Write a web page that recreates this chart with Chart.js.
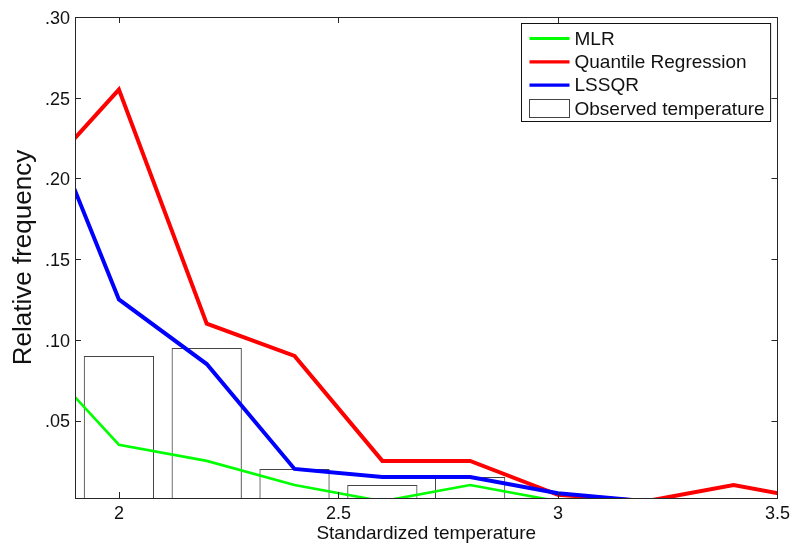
<!DOCTYPE html>
<html>
<head>
<meta charset="utf-8">
<script src="https://cdn.jsdelivr.net/npm/chart.js@4"></script>
<style>
  html, body { margin: 0; padding: 0; background: #fff; }
  #wrap { width: 795px; height: 545px; }
</style>
</head>
<body>
<div id="wrap"><canvas id="freqChart" width="795" height="545"></canvas></div>
<script>
// values
const xPoints = [1.8, 2.0, 2.2, 2.4, 2.6, 2.8, 3.0, 3.2, 3.4, 3.6];
const mlr = [0.094, 0.035, 0.025, 0.01, 0, 0.01, 0, 0, 0, 0];
const quantile = [0.195, 0.255, 0.11, 0.09, 0.025, 0.025, 0.004, 0, 0.01, 0];
const lssqr = [0.26, 0.125, 0.085, 0.02, 0.015, 0.015, 0.005, 0, 0, 0];
const barX = [2.0, 2.2, 2.4, 2.6, 2.8];
const observed = [0.09, 0.095, 0.02, 0.01, 0.015];
const xTicks = [2, 2.5, 3, 3.5];
const yTicks = [0.05, 0.10, 0.15, 0.20, 0.25, 0.30];

const FONT = '"Liberation Sans", Arial, Helvetica, sans-serif';
const AXIS = '#262626';

const toXY = (xs, ys) => xs.map((x, i) => ({ x: x, y: ys[i] }));

// inward tick marks + box round the plot, MATLAB style
const frame = {
  id: 'frame',
  afterDatasetsDraw(chart) {
    const { ctx, chartArea: a, scales: { x, y } } = chart;
    ctx.save();
    ctx.strokeStyle = AXIS;
    ctx.lineWidth = 1;
    ctx.beginPath();
    xTicks.forEach(v => {
      const px = Math.round(x.getPixelForValue(v)) + 0.5;
      ctx.moveTo(px, a.bottom); ctx.lineTo(px, a.bottom - 6);
      ctx.moveTo(px, a.top); ctx.lineTo(px, a.top + 6);
    });
    yTicks.forEach(v => {
      const py = Math.round(y.getPixelForValue(v)) + 0.5;
      ctx.moveTo(a.left, py); ctx.lineTo(a.left + 6, py);
      ctx.moveTo(a.right, py); ctx.lineTo(a.right - 6, py);
    });
    ctx.stroke();
    ctx.strokeRect(Math.round(a.left) + 0.5, Math.round(a.top) + 0.5,
      Math.round(a.right - a.left), Math.round(a.bottom - a.top));
    ctx.restore();
  }
};

// boxed legend inside the top right corner
const boxLegend = {
  id: 'boxLegend',
  afterDraw(chart) {
    const { ctx, chartArea: a } = chart;
    const sets = chart.data.datasets;
    ctx.save();
    ctx.font = '19px ' + FONT;
    let tw = 0;
    sets.forEach(d => { tw = Math.max(tw, ctx.measureText(d.label).width); });
    const w = 53 + tw + 6;
    const h = 98;
    const left = Math.round(a.right - 7 - w) + 0.5;
    const top = Math.round(a.top + 6) + 0.5;
    ctx.fillStyle = '#fff';
    ctx.fillRect(left, top, w, h);
    ctx.strokeStyle = '#111';
    ctx.lineWidth = 1;
    ctx.strokeRect(left, top, w, h);
    sets.forEach((d, i) => {
      const cy = top + 15 + i * 23.3;
      if (d.type === 'bar') {
        ctx.strokeStyle = '#444';
        ctx.strokeRect(left + 8, Math.round(cy - 9) + 0.5, 40, 18);
      } else {
        ctx.strokeStyle = d.borderColor;
        ctx.lineWidth = 3.2;
        ctx.beginPath();
        ctx.moveTo(left + 8, cy);
        ctx.lineTo(left + 48, cy);
        ctx.stroke();
        ctx.lineWidth = 1;
      }
      ctx.fillStyle = '#111';
      ctx.textBaseline = 'middle';
      ctx.fillText(d.label, left + 53, cy + 1);
    });
    ctx.restore();
  }
};

const ctx = document.getElementById('freqChart').getContext('2d');

const freqChart = new Chart(ctx, {
  type: 'line',
  data: {
    datasets: [{
      label: 'MLR',
      data: toXY(xPoints, mlr),
      borderColor: '#00ff00',
      borderWidth: 2.6,
      pointRadius: 0,
      tension: 0,
      clip: 0,
      order: 0
    }, {
      label: 'Quantile Regression',
      data: toXY(xPoints, quantile),
      borderColor: '#ff0000',
      borderWidth: 4,
      pointRadius: 0,
      tension: 0,
      clip: 0,
      order: 2
    }, {
      label: 'LSSQR',
      data: toXY(xPoints, lssqr),
      borderColor: '#0000ff',
      borderWidth: 4,
      pointRadius: 0,
      tension: 0,
      clip: 0,
      order: 1
    }, {
      type: 'bar',
      label: 'Observed temperature',
      data: toXY(barX, observed),
      backgroundColor: 'rgba(255,255,255,0)',
      borderColor: '#444',
      borderWidth: 1,
      borderSkipped: false,
      categoryPercentage: 1,
      barPercentage: 0.8,
      clip: 0,
      order: 3
    }]
  },
  options: {
    responsive: false,
    maintainAspectRatio: false,
    animation: false,
    events: [],
    layout: { padding: { top: 17, right: 16, left: 0, bottom: 0 } },
    scales: {
      x: {
        type: 'linear',
        min: 1.9,
        max: 3.5,
        offset: false,
        afterBuildTicks: s => { s.ticks = xTicks.map(v => ({ value: v })); },
        afterFit: s => { s.height = 47; },
        grid: { display: false, drawTicks: false },
        border: { display: false },
        ticks: {
          padding: 5,
          color: '#111',
          font: { family: FONT, size: 18 },
          maxRotation: 0,
          callback: v => String(v)
        },
        title: {
          display: true,
          text: 'Standardized temperature',
          color: '#111',
          font: { family: FONT, size: 19 },
          padding: { top: 0, bottom: 0 }
        }
      },
      y: {
        min: 0.002,
        max: 0.30,
        afterBuildTicks: s => { s.ticks = yTicks.map(v => ({ value: v })); },
        afterFit: s => { s.width = 75; },
        grid: { display: false, drawTicks: false },
        border: { display: false },
        ticks: {
          padding: 5,
          labelOffset: 2,
          color: '#111',
          font: { family: FONT, size: 18 },
          callback: v => v.toFixed(2).replace(/^0/, '')
        },
        title: {
          display: true,
          text: 'Relative frequency',
          color: '#111',
          font: { family: FONT, size: 26 },
          padding: { top: 8, bottom: 0 }
        }
      }
    },
    plugins: {
      legend: { display: false },
      tooltip: { enabled: false }
    }
  },
  plugins: [frame, boxLegend]
});
</script>
</body>
</html>
